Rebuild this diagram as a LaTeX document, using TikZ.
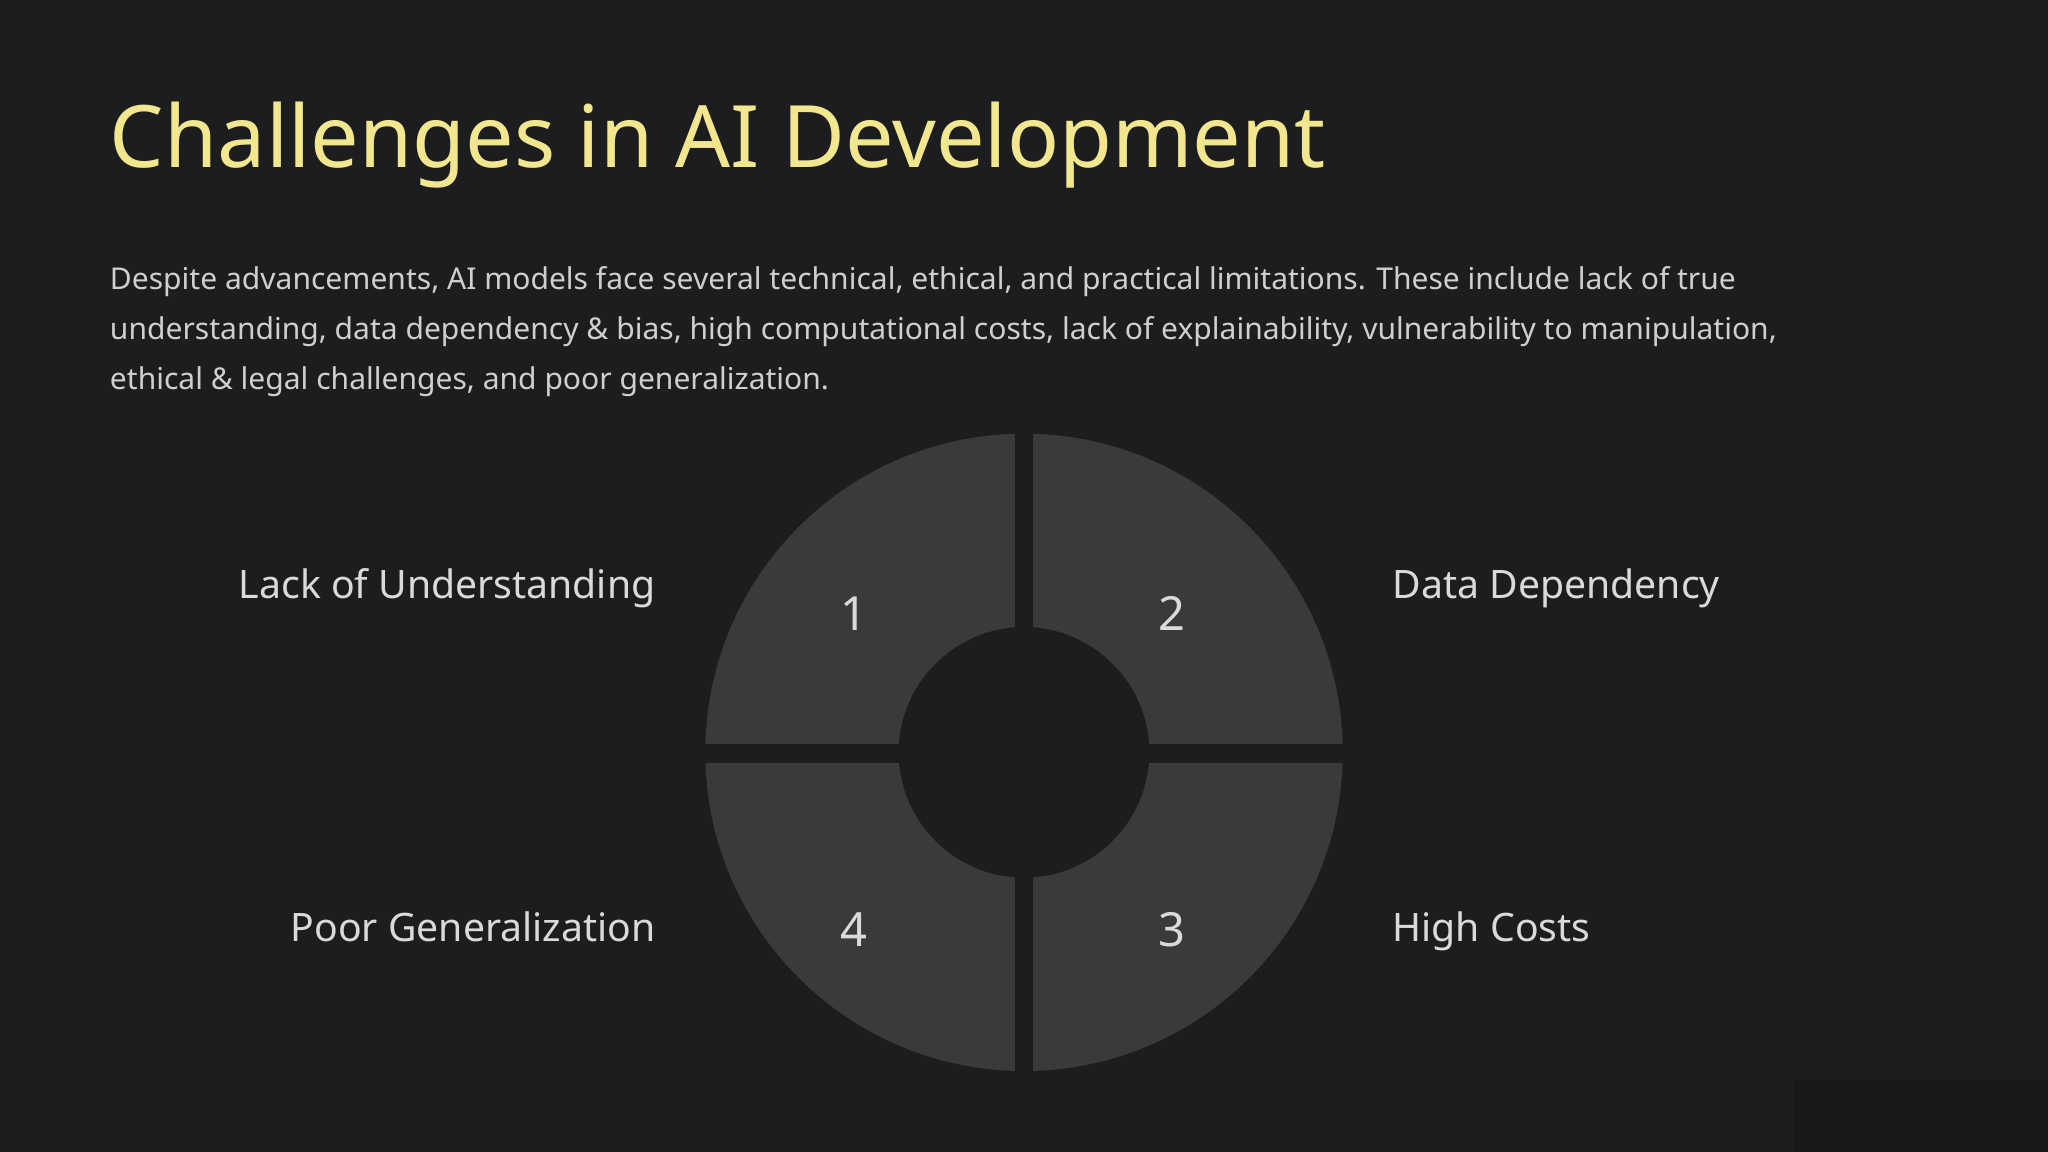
\documentclass[tikz,border=0pt]{standalone}
\usepackage{fontspec}
\setmainfont{Noto Sans}
\definecolor{bg}{HTML}{1C1D1F}
\definecolor{bgd}{HTML}{18191A}
\definecolor{seg}{HTML}{3A3A3C}
\definecolor{ttl}{HTML}{F2E68F}
\definecolor{txt}{HTML}{CFCFCF}
\definecolor{lbl}{HTML}{DADADA}
\tikzset{
  body/.style={anchor=base west,inner sep=0,text=txt,font=\fontsize{23}{28}\selectfont},
  lab/.style={inner sep=0,text=lbl,font=\fontsize{30}{36}\selectfont},
  num/.style={anchor=base,inner sep=0,text=lbl,font=\fontsize{36}{42}\selectfont}
}
\begin{document}
\begin{tikzpicture}[x=1pt,y=-1pt]
\fill[bg] (0,0) rectangle (1568,882);
\useasboundingbox (0,0) rectangle (1568,882);
\fill[bgd] (1373,826) rectangle (1568,882);
\node[anchor=base west,inner sep=0,text=ttl,font=\fontsize{66}{70}\selectfont] (title) at (84,128) {Challenges in AI Development};
\node[body] (b1) at (84,222) {Despite advancements, AI models face several technical, ethical, and practical limitations. These include lack of true};
\node[body] (b2) at (84,260) {understanding, data dependency \& bias, high computational costs, lack of explainability, vulnerability to manipulation,};
\node[body] (b3) at (84,298) {ethical \& legal challenges, and poor generalization.};
% donut
\coordinate (c) at (784,576);
\fill[seg,even odd rule] (c) circle[radius=244] (c) circle[radius=96];
\fill[bg] (777,320) rectangle (791,832);
\fill[bg] (530,570) rectangle (1038,584);
\node[num] (n1) at (654,483) {1};
\node[num] (n2) at (897,483) {2};
\node[num] (n4) at (654,725) {4};
\node[num] (n3) at (897,725) {3};
\node[lab,anchor=base east] (l1) at (502,458) {Lack of Understanding};
\node[lab,anchor=base east] (l4) at (502,721) {Poor Generalization};
\node[lab,anchor=base west] (l2) at (1066,458) {Data Dependency};
\node[lab,anchor=base west] (l3) at (1066,721) {High Costs};
\end{tikzpicture}
\end{document}
